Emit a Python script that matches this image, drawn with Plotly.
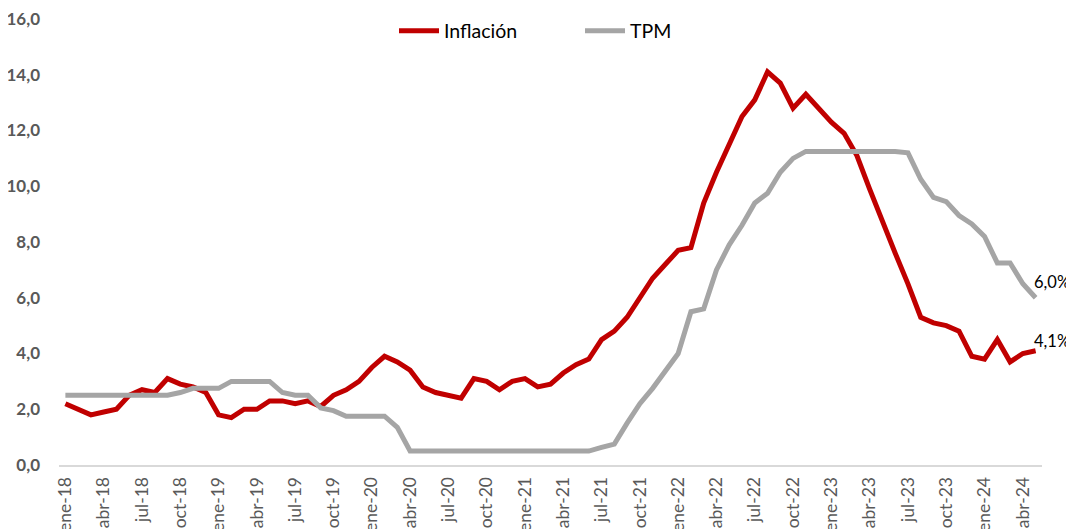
import plotly.graph_objects as go

# ---- data ----
month_names = ["ene", "feb", "mar", "abr", "may", "jun", "jul", "ago", "sep", "oct", "nov", "dic"]
years = ["18", "19", "20", "21", "22", "23", "24"]
categories = [f"{m}-{y}" for y in years for m in month_names][:77]  # ene-18 .. may-24

inflacion = [
    2.2, 2.0, 1.8, 1.9, 2.0, 2.5, 2.7, 2.6, 3.1, 2.9, 2.8, 2.6,      # 2018
    1.8, 1.7, 2.0, 2.0, 2.3, 2.3, 2.2, 2.3, 2.1, 2.5, 2.7, 3.0,      # 2019
    3.5, 3.9, 3.7, 3.4, 2.8, 2.6, 2.5, 2.4, 3.1, 3.0, 2.7, 3.0,      # 2020
    3.1, 2.8, 2.9, 3.3, 3.6, 3.8, 4.5, 4.8, 5.3, 6.0, 6.7, 7.2,      # 2021
    7.7, 7.8, 9.4, 10.5, 11.5, 12.5, 13.1, 14.1, 13.7, 12.8, 13.3, 12.8,  # 2022
    12.3, 11.9, 11.1, 9.9, 8.7, 7.6, 6.5, 5.3, 5.1, 5.0, 4.8, 3.9,   # 2023
    3.8, 4.5, 3.7, 4.0, 4.1,                                          # 2024
]

tpm = [
    2.5, 2.5, 2.5, 2.5, 2.5, 2.5, 2.5, 2.5, 2.5, 2.6, 2.75, 2.75,    # 2018
    2.75, 3.0, 3.0, 3.0, 3.0, 2.6, 2.5, 2.5, 2.05, 1.95, 1.75, 1.75, # 2019
    1.75, 1.75, 1.35, 0.5, 0.5, 0.5, 0.5, 0.5, 0.5, 0.5, 0.5, 0.5,   # 2020
    0.5, 0.5, 0.5, 0.5, 0.5, 0.5, 0.63, 0.75, 1.5, 2.2, 2.75, 3.4,   # 2021
    4.0, 5.5, 5.6, 7.0, 7.9, 8.6, 9.4, 9.75, 10.5, 11.0, 11.25, 11.25,  # 2022
    11.25, 11.25, 11.25, 11.25, 11.25, 11.25, 11.2, 10.25, 9.6, 9.45, 8.95, 8.65,  # 2023
    8.2, 7.25, 7.25, 6.5, 6.0,                                        # 2024
]

tick_labels = categories[::3]
y_ticks = [0, 2, 4, 6, 8, 10, 12, 14, 16]

RED = "#C00000"
GRAY = "#A5A5A5"
FONT = "Lato"

fig = go.Figure()
fig.add_trace(go.Scatter(x=categories, y=inflacion, mode="lines", name="Inflación",
                         line=dict(color=RED, width=5)))
fig.add_trace(go.Scatter(x=categories, y=tpm, mode="lines", name="TPM",
                         line=dict(color=GRAY, width=5)))

def pct(v):
    return f"{v:.1f}%".replace(".", ",")

fig.add_annotation(x=categories[-1], y=tpm[-1], text=pct(tpm[-1]), showarrow=False,
                   xanchor="left", yanchor="middle", xshift=-4, yshift=16,
                   font=dict(family=FONT, size=16.5, color="#000000"))
fig.add_annotation(x=categories[-1], y=inflacion[-1], text=pct(inflacion[-1]), showarrow=False,
                   xanchor="left", yanchor="middle", xshift=-4, yshift=10,
                   font=dict(family=FONT, size=16.5, color="#000000"))

fig.update_layout(
    width=1066, height=521,
    margin=dict(l=51, r=32, t=11, b=64, autoexpand=False),
    paper_bgcolor="white", plot_bgcolor="white",
    separators=",.",
    showlegend=True,
    legend=dict(orientation="h", x=0.3408, xanchor="left", y=0.973, yanchor="middle",
                font=dict(family=FONT, size=19.5, color="#000000"),
                bgcolor="rgba(0,0,0,0)", itemwidth=40, entrywidth=131),
    xaxis=dict(
        type="category", range=[-0.5, len(categories) - 0.5],
        tickmode="array", tickvals=tick_labels, ticktext=tick_labels,
        tickangle=-90, showgrid=False, zeroline=False,
        showline=True, linecolor="#D9D9D9", linewidth=2,
        ticks="", ticklabelstandoff=3, ticklabeloverflow="allow",
        tickfont=dict(family=FONT, size=17.5, color="#595959"),
    ),
    yaxis=dict(
        range=[0, 16], tickmode="array", tickvals=y_ticks, tickformat=".1f",
        showgrid=False, zeroline=False, showline=False, ticks="",
        ticklabelstandoff=18, ticklabeloverflow="allow",
        tickfont=dict(family=FONT, size=17, color="#595959", weight="bold"),
    ),
)

fig.write_html("out.html")
